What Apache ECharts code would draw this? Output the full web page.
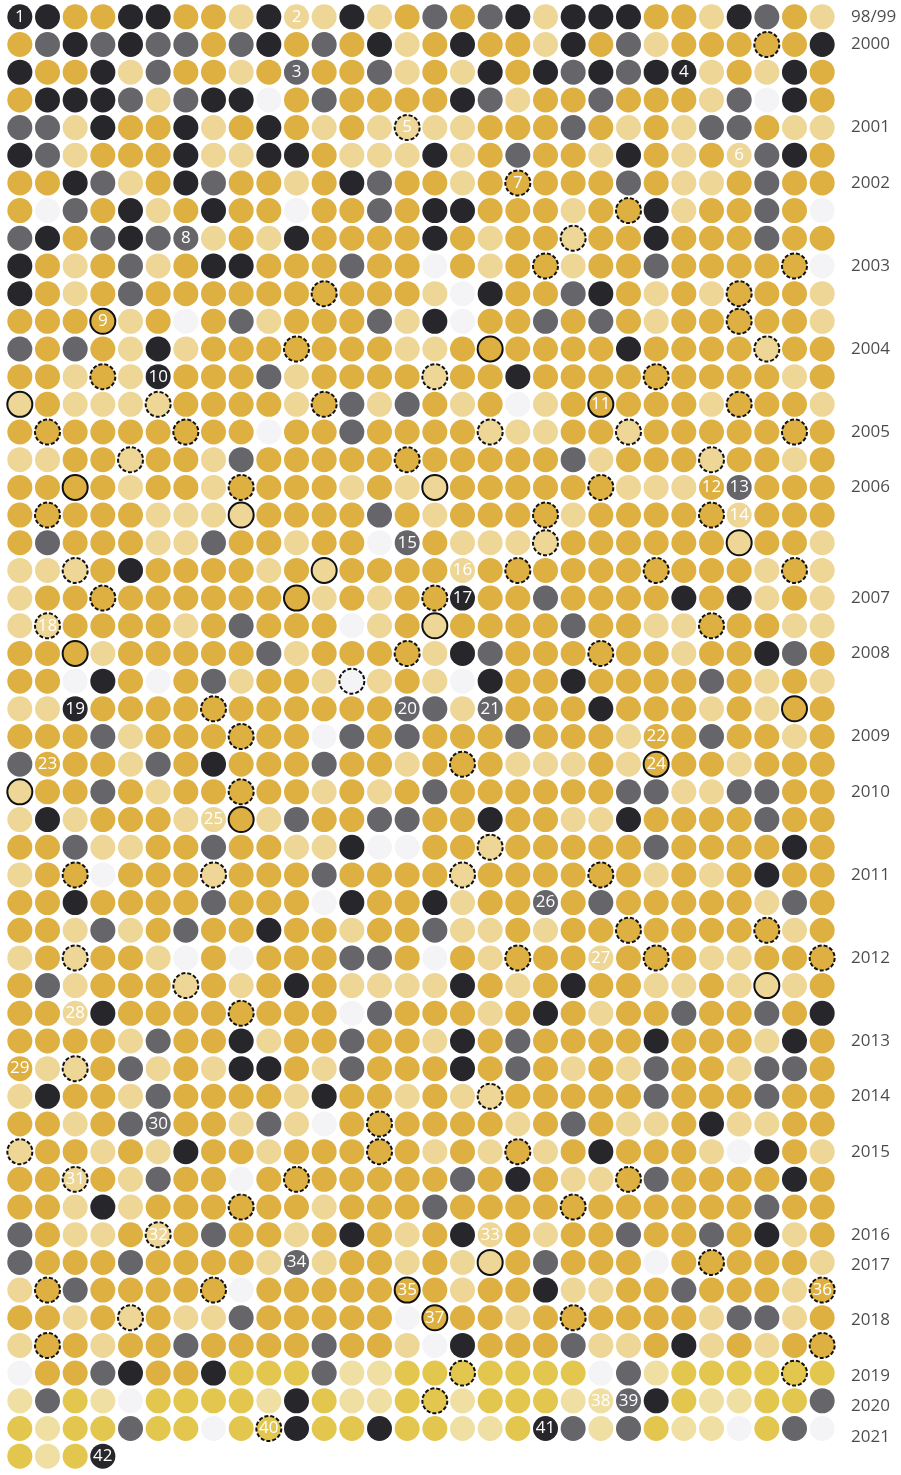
<!DOCTYPE html>
<html>
<head>
<meta charset="utf-8">
<script src="https://cdn.jsdelivr.net/npm/echarts@6/dist/echarts.min.js"></script>
<style>
html, body { margin: 0; padding: 0; background: #fff; }
#chart { width: 901px; height: 1475px; }
</style>
</head>
<body>
<div id="chart"></div>
<script>
// one string per row, one letter per dot
// D dark, G grey, O gold, L light gold, W blank, Y yellow, M light yellow
var rowCodes = [
	"DDOODDOOLDLLDLOGOGDLDDDOOLDGOL",
	"OGDGDGGOGDOGODLODOOLDOGLOOOOOD",
	"DOODLGOOLOGOOGLOLDODGDGDDLOLDO",
	"ODDDGLGDDWOGOOOODGLOOGOOOLGWDO",
	"GGLDOODLODOLOLLLLOOOGOLOLGGOLL",
	"DGLOOODLLDDOLLLDLOGOOLDOLOLGDO",
	"OODGLODGOOLODGOOLOOOOOGOLLOGOO",
	"OWGODLODOOWOOGODDOOOLOODLOOGOW",
	"GDOGDGGLOLDOOOODOLOOLOODOOOGOO",
	"DOLOGLODDOOOGOOWOLOOLOOGOOOOOW",
	"DOLOGOOOOOOOOOOLWDOOGDOLOLOOOL",
	"OOOOLOWOGLOOOGLDWOOGOGOLOOOOOL",
	"GOGOLDLOOOOOOOLLOOOOOODOOOOLOO",
	"OOLOLDOOOGLOOOOLOODOOOOOOOOOLO",
	"LOLLLLOOOOLOGLGOLOWLOOOOOLOOOL",
	"OOOOOOOOOWOOGOOOOLLLOOLOOOOOOO",
	"LLOOLOOLGOOOOOOOOOOOGLOOOLOOLO",
	"OOOOLOOLOOOOLOLLOOOOOOLLLOGOOO",
	"OOOOOLLLLOOOOGOLOOOOLOOOOOLOOO",
	"OGOOOLLGOOLOOWGOLLLLOOOOOOLOOL",
	"LLLODOOOOLOLOOOOLOOOOOOOOOOLOL",
	"LOOOOOOOOOOLOLOODOOGOOOODODLOL",
	"LLOOOOLOGOOOWLOLOOOOGOOLLOOOLL",
	"OOOLOOOOOGLOOOOLDGOOOOOOLOODGO",
	"OOWDOWOGLOOLWLOLWDOODOOOOGOLOL",
	"LLDOOOOOOOOOOOGGLGOOODOOOLOLOO",
	"OOOGLOOOOOOWGOGOOOGOOOLOOGOOLO",
	"GOOOLGODOOOGOOLOOOLLLOLOOOLOOO",
	"LOOGOLOOOOOLOLOGOOOOOOGGLLGGOO",
	"LDLOOOLLOLGOOGGOODOOLLDOOOOGOO",
	"OOGLLOOGOOLLDWWOOLOOOOOGOOOODO",
	"LOOWOOOLOOOGOOOOLOOOOOOLOLODOO",
	"OODOOOOGOOOWDOODLOOGOGOOOOOLGO",
	"OOLGLOGOODOOLOOGLLOLOOOOOOOOLO",
	"LOLOOLWOWOOOGGOWOLOOOLOOOLLOOO",
	"OGLOOOLOLODOLLLLDOLODOOLLOLLLO",
	"OOLDOOOOOOOOWGOOOLODOLOOGOOGOD",
	"OOOOLGOODLOOGOOLDOGOOOODOOOLDO",
	"OLLOGLOLDDOLGOOODOGOLOLGOOLGGO",
	"LDOOLGOOOOLDOOLOLLOOOOOGOOOGOO",
	"OOLOGGOOLGLWOOOOOOLOGOLLODLLOO",
	"LOOLOLDOOLOOOOOLOLOLODOOOLWDOL",
	"OOLOLGOOWOOOOOOOGODOLLOGOOOODO",
	"OOLDLOOOOOOLOOOGOOOOOOOOOOOGOO",
	"GOLLOLOGOOLODOLODLOLOOGOOGODLO",
	"GOOOGOOOOLGLOOLOLLOGOOOWOOOOOL",
	"LOGOOOOOWOOOOOOOLOODLLOOGOOOLO",
	"OOLOLOLLGOOOOOWOOOLOOOOOOLGGLO",
	"LOOLOOGOOOOGOOLWDOOOGLLODLOLOO",
	"WOOGDOODYYYGMMYYYYYYYWGMYYYYYY",
	"MGYMWYYYYMDYMMYYMYYYMMGDYMMYYG",
	"YMYYGYYWYYDYYDYYMMYDGMGYMMWYGW",
	"YMYD"
];

var dotColors = {
	D: '#26262b',
	G: '#66666a',
	O: '#deb042',
	L: '#eed697',
	W: '#f4f4f6',
	Y: '#e3c64e',
	M: '#f0dfa3'
};

// [row, column]
var solidRings = [
	[11,3],[12,17],[14,0],[14,21],[17,2],[17,15],[18,8],[19,26],[20,11],[21,10],
	[22,15],[23,2],[25,28],[27,23],[28,0],[29,8],[35,27],[45,17],[46,14],[47,15]
];

var dashedRings = [
	[1,27],[4,14],[6,18],[7,22],[8,20],[9,19],[9,28],[10,11],[10,26],[11,26],
	[12,10],[12,27],[13,3],[13,15],[13,23],[14,5],[14,11],[14,26],[15,1],[15,6],
	[15,17],[15,22],[15,28],[16,4],[16,14],[16,25],[17,8],[17,21],[18,1],[18,19],
	[18,25],[19,19],[20,2],[20,18],[20,23],[20,28],[21,3],[21,15],[22,1],[22,25],
	[23,14],[23,21],[24,12],[25,7],[26,8],[27,16],[28,8],[30,17],[31,2],[31,7],
	[31,16],[31,21],[33,22],[33,27],[34,2],[34,18],[34,23],[34,29],[35,6],[36,8],
	[38,2],[39,17],[40,13],[41,0],[41,13],[41,18],[42,2],[42,10],[42,22],[43,8],
	[43,20],[44,5],[45,25],[46,1],[46,7],[46,29],[47,4],[47,20],[48,1],[48,29],
	[49,16],[49,28],[50,15],[51,9]
];

// [row, column, text]
var numberLabels = [
	[0,0,'1'],[0,10,'2'],[2,10,'3'],[2,24,'4'],[4,14,'5'],[5,26,'6'],[6,18,'7'],
	[8,6,'8'],[11,3,'9'],[13,5,'10'],[14,21,'11'],[17,25,'12'],[17,26,'13'],
	[18,26,'14'],[19,14,'15'],[20,16,'16'],[21,16,'17'],[22,1,'18'],[25,2,'19'],
	[25,14,'20'],[25,17,'21'],[26,23,'22'],[27,1,'23'],[27,23,'24'],[29,7,'25'],
	[32,19,'26'],[34,21,'27'],[36,2,'28'],[38,0,'29'],[40,5,'30'],[42,2,'31'],
	[44,5,'32'],[44,17,'33'],[45,10,'34'],[46,14,'35'],[46,29,'36'],[47,15,'37'],
	[50,21,'38'],[50,22,'39'],[51,9,'40'],[51,19,'41'],[52,3,'42']
];

var yearNames = ['98/99','2000','2001','2002','2003','2004','2005','2006','2007','2008','2009',
	'2010','2011','2012','2013','2014','2015','2016','2017','2018','2019','2020','2021'];
var yearRows = [0, 1, 4, 6, 9, 12, 15, 17, 21, 23, 26, 28, 31, 34, 37, 39, 41, 44, 45.1, 47.1, 49.1, 50.2, 51.3];

var chart = echarts.init(document.getElementById('chart'));

var rings = {};
solidRings.forEach(function (p) { rings[p[0] + '_' + p[1]] = 'solid'; });
dashedRings.forEach(function (p) { rings[p[0] + '_' + p[1]] = 'dashed'; });
var texts = {};
numberLabels.forEach(function (p) { texts[p[0] + '_' + p[1]] = p[2]; });

var dots = [];
rowCodes.forEach(function (codes, r) {
	for (var c = 0; c < codes.length; c++) {
		var k = r + '_' + c;
		var item = {
			value: [c, r],
			itemStyle: { color: dotColors[codes[c]], opacity: 1 }
		};
		if (rings[k] == 'solid') {
			item.itemStyle.borderColor = '#111';
			item.itemStyle.borderWidth = 2;
		} else if (rings[k] == 'dashed') {
			item.itemStyle.borderColor = '#111';
			item.itemStyle.borderWidth = 2;
			item.itemStyle.borderType = [4, 2];
		}
		if (texts[k]) {
			item.name = texts[k];
			item.label = { show: true };
		}
		dots.push(item);
	}
});

var years = yearRows.map(function (r, i) {
	return { value: [29.5, r], name: yearNames[i] };
});

var option = {
	animation: false,
	backgroundColor: '#fff',
	grid: { left: 6, right: 65, top: 3, bottom: 5 },
	xAxis: { type: 'value', min: -0.5, max: 29.5, show: false },
	yAxis: { type: 'value', min: -0.5, max: 52.5, inverse: true, show: false },
	series: [
		{
			type: 'scatter',
			symbol: 'circle',
			symbolSize: 25,
			silent: true,
			itemStyle: { opacity: 1 },
			label: {
				show: false,
				position: 'inside',
				color: '#fff',
				fontSize: 17,
				fontFamily: 'Open Sans',
				formatter: '{b}'
			},
			data: dots
		},
		{
			type: 'scatter',
			symbolSize: 0,
			silent: true,
			clip: false,
			label: {
				show: true,
				position: 'right',
				distance: 15,
				color: '#1e1e1e',
				fontSize: 17,
				fontFamily: 'Open Sans',
				formatter: '{b}'
			},
			data: years
		}
	]
};
chart.setOption(option);
</script>
</body>
</html>
